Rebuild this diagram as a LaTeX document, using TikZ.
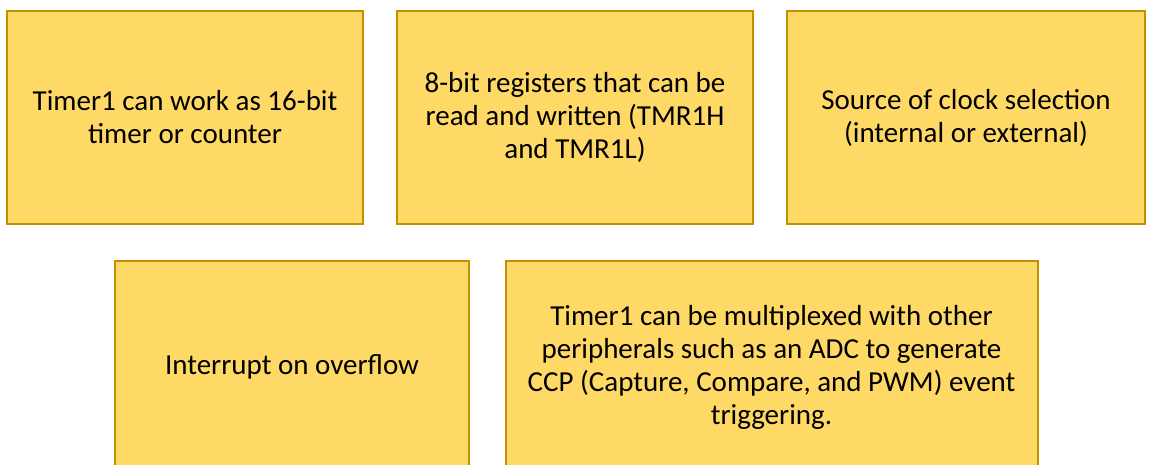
\documentclass[tikz,border=0pt]{standalone}
\usepackage{fontspec}
\setmainfont{Carlito}
\definecolor{boxfill}{HTML}{FFD966}
\definecolor{boxline}{HTML}{BF9000}
\begin{document}
\begin{tikzpicture}[x=1pt,y=-1pt,
  infobox/.style={draw=boxline, fill=boxfill, line width=2pt, rectangle,
    inner sep=0pt, align=center, text=black,
    font=\fontsize{29}{33}\selectfont}]
\useasboundingbox (0,0) rectangle (1149,465);
\clip (0,0) rectangle (1149,465);
\node[infobox, minimum width=356pt, minimum height=213pt] (b1) at (185,117.5)
  {Timer1 can work as 16-bit\\timer or counter};
\node[infobox, minimum width=356pt, minimum height=213pt] (b2) at (575,117.5)
  {8-bit registers that can be\\read and written (TMR1H\\and TMR1L)};
\node[infobox, minimum width=358pt, minimum height=213pt] (b3) at (966,117.5)
  {Source of clock selection\\(internal or external)};
\node[infobox, minimum width=354pt, minimum height=212pt] (b4) at (292,367)
  {Interrupt on overflow};
\node[infobox, minimum width=532pt, minimum height=212pt] (b5) at (771.5,367)
  {Timer1 can be multiplexed with other\\peripherals such as an ADC to generate\\CCP (Capture, Compare, and PWM) event\\triggering.};
\end{tikzpicture}
\end{document}
